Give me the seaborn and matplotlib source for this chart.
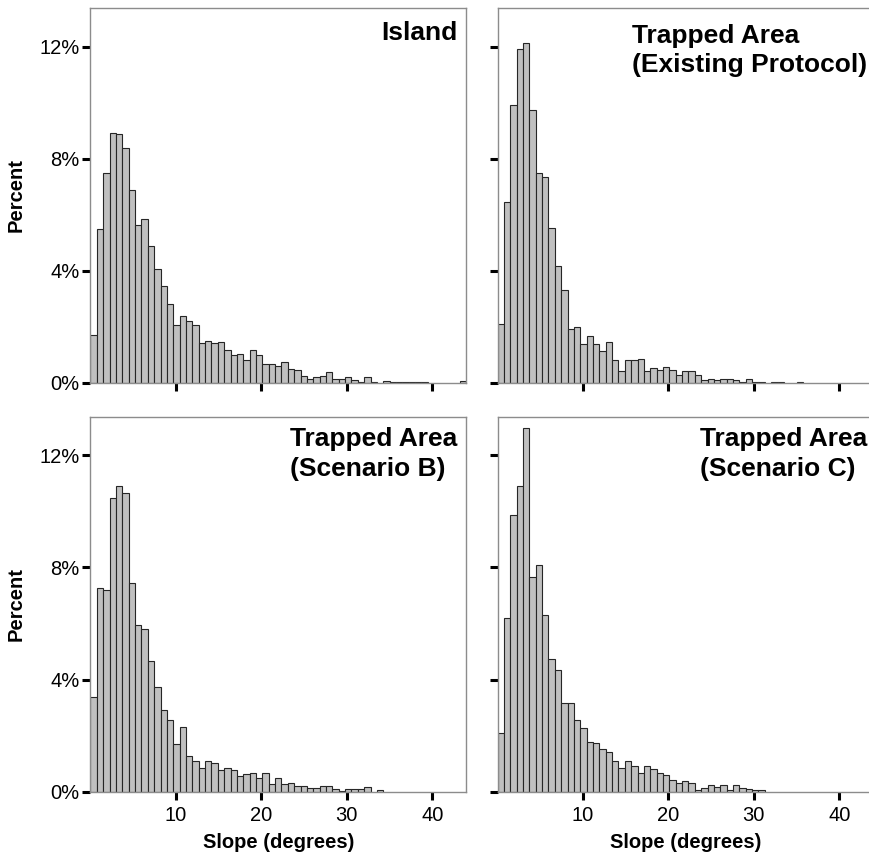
import numpy as np
import pandas as pd
import matplotlib
matplotlib.use("Agg")
import matplotlib.pyplot as plt
from matplotlib.ticker import PercentFormatter, FixedLocator
import seaborn as sns

# Slope histograms: share of cells (%) per slope bin, 59 bins from 0 degrees
bin_width = 0.745
n_bins = 59

island = [1.71, 5.48, 7.49, 8.93, 8.88, 8.38, 6.88, 5.64, 5.85, 4.87,
          4.07, 3.46, 2.81, 2.07, 2.38, 2.20, 2.06, 1.40, 1.48, 1.42,
          1.46, 1.17, 0.98, 1.04, 0.81, 1.17, 0.98, 0.67, 0.67, 0.61,
          0.74, 0.50, 0.45, 0.25, 0.13, 0.20, 0.25, 0.38, 0.13, 0.13,
          0.19, 0.08, 0.02, 0.19, 0.02, 0.00, 0.07, 0.02, 0.02, 0.02,
          0.02, 0.02, 0.02, 0.00, 0.00, 0.00, 0.00, 0.00, 0.07]

existing = [2.11, 6.44, 9.92, 11.93, 12.12, 9.72, 7.49, 7.34, 5.52, 4.17,
            3.32, 1.92, 1.98, 1.38, 1.66, 1.37, 1.13, 1.47, 0.81, 0.40,
            0.81, 0.81, 0.86, 0.40, 0.51, 0.46, 0.57, 0.46, 0.26, 0.40,
            0.40, 0.26, 0.08, 0.14, 0.08, 0.14, 0.14, 0.08, 0.03, 0.14,
            0.03, 0.03, 0.00, 0.03, 0.03, 0.00, 0.00, 0.04, 0.00, 0.00,
            0.00, 0.00, 0.00, 0.00, 0.00, 0.00, 0.00, 0.00, 0.00]

scenario_b = [3.39, 7.26, 7.19, 10.47, 10.90, 10.66, 7.44, 5.93, 5.80, 4.66,
              3.75, 2.90, 2.54, 1.70, 2.30, 1.29, 1.09, 0.84, 1.09, 1.03,
              0.78, 0.84, 0.78, 0.55, 0.63, 0.68, 0.49, 0.68, 0.26, 0.49,
              0.28, 0.30, 0.19, 0.19, 0.12, 0.12, 0.19, 0.19, 0.08, 0.03,
              0.08, 0.08, 0.08, 0.18, 0.00, 0.06, 0.00, 0.00, 0.00, 0.00,
              0.00, 0.00, 0.00, 0.00, 0.00, 0.00, 0.00, 0.00, 0.00]

scenario_c = [2.10, 6.19, 9.87, 10.91, 12.98, 7.65, 8.08, 6.31, 4.72, 4.34,
              3.18, 3.18, 2.57, 2.27, 1.78, 1.72, 1.53, 1.42, 1.11, 0.85,
              1.11, 0.91, 0.67, 0.91, 0.80, 0.67, 0.61, 0.43, 0.30, 0.37,
              0.31, 0.06, 0.13, 0.24, 0.18, 0.24, 0.06, 0.24, 0.13, 0.11,
              0.06, 0.05, 0.00, 0.00, 0.00, 0.00, 0.00, 0.00, 0.00, 0.00,
              0.00, 0.00, 0.00, 0.00, 0.00, 0.00, 0.00, 0.00, 0.00]

titles = ["Island", "Trapped Area\n(Existing Protocol)",
          "Trapped Area\n(Scenario B)", "Trapped Area\n(Scenario C)"]
x_ticks = [10, 20, 30, 40]
y_ticks = [0, 4, 8, 12]

x_max = n_bins * bin_width
centers = (np.arange(n_bins) + 0.5) * bin_width

sns.set_style("white")
plt.rcParams["font.family"] = ["Liberation Sans", "DejaVu Sans"]
plt.rcParams["text.color"] = "black"
plt.rcParams["axes.labelcolor"] = "black"

W, H = 870, 859
fig = plt.figure(figsize=(W / 100, H / 100), dpi=100)

# panel boxes in pixels: (left, top, width, height)
boxes = [(90.5, 8.0, 375.5, 374.7), (497.5, 8.0, 375.5, 374.7),
         (90.5, 416.5, 375.5, 375.2), (497.5, 416.5, 375.5, 375.2)]
# title anchor (right edge, top) in axes fraction
title_pos = [(0.978, 0.964), (0.985, 0.958), (0.978, 0.971), (0.984, 0.971)]

series = [island, existing, scenario_b, scenario_c]

for i, (vals, title, box, tpos) in enumerate(zip(series, titles, boxes, title_pos)):
    l, t, w, h = box
    ax = fig.add_axes([l / W, 1 - (t + h) / H, w / W, h / H])
    df = pd.DataFrame({"slope": centers, "pct": vals})
    sns.histplot(data=df, x="slope", weights="pct", bins=n_bins,
                 binrange=(0, x_max), ax=ax, stat="count",
                 color="#c0c0c0", edgecolor="#262626",
                 linewidth=0.8, alpha=1.0)
    for p in ax.patches:
        if p.get_height() <= 0:
            p.set_visible(False)
    ax.set_xlim(0, x_max)
    ax.set_ylim(0, 13.38)
    ax.xaxis.set_major_locator(FixedLocator(x_ticks))
    ax.yaxis.set_major_locator(FixedLocator(y_ticks))
    ax.yaxis.set_major_formatter(PercentFormatter(xmax=100, decimals=0))
    ax.tick_params(axis="both", which="major", direction="out", length=6,
                   width=2.2, color="black", labelsize=14.5,
                   labelcolor="black", bottom=True, left=True,
                   top=False, right=False)
    ax.tick_params(axis="x", pad=4)
    ax.tick_params(axis="y", pad=2)
    for s in ax.spines.values():
        s.set_color("#8c8c8c")
        s.set_linewidth(1.0)
        s.set_visible(True)
    ax.set_xlabel("")
    ax.set_ylabel("")
    if i < 2:
        ax.tick_params(axis="x", labelbottom=False)
    else:
        ax.set_xlabel("Slope (degrees)", fontsize=14.5, fontweight="bold",
                      labelpad=6, color="black")
    if i % 2 == 1:
        ax.tick_params(axis="y", labelleft=False)
    else:
        ax.set_ylabel("Percent", fontsize=14.5, fontweight="bold",
                      labelpad=10, color="black")
    ax.text(tpos[0], tpos[1], title, transform=ax.transAxes, ha="right",
            va="top", multialignment="left", fontsize=19,
            fontweight="bold", linespacing=1.3, color="black")

fig.savefig("out.png", dpi=100)
